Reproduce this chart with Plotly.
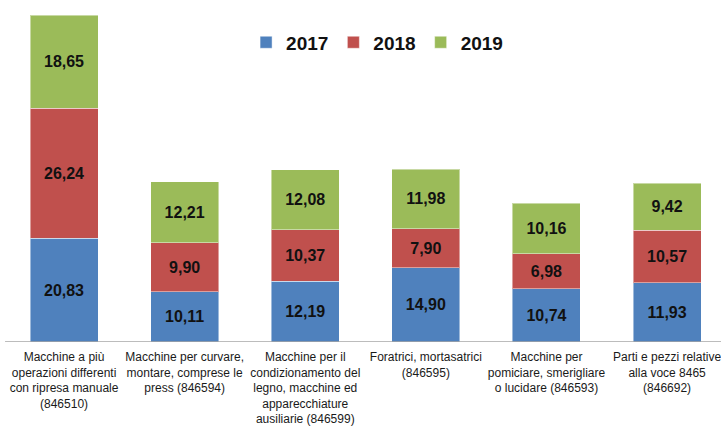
import plotly.graph_objects as go

categories = [
    "Macchine a più<br>operazioni differenti<br>con ripresa manuale<br>(846510)",
    "Macchine per curvare,<br>montare, comprese le<br>press (846594)",
    "Macchine per il<br>condizionamento del<br>legno, macchine ed<br>apparecchiature<br>ausiliarie (846599)",
    "Foratrici, mortasatrici<br>(846595)",
    "Macchine per<br>pomiciare, smerigliare<br>o lucidare (846593)",
    "Parti e pezzi relative<br>alla voce 8465<br>(846692)",
]
v2017 = [20.83, 10.11, 12.19, 14.90, 10.74, 11.93]
v2018 = [26.24, 9.90, 10.37, 7.90, 6.98, 10.57]
v2019 = [18.65, 12.21, 12.08, 11.98, 10.16, 9.42]
series_names = ["2017", "2018", "2019"]
colors = ["#4F81BD", "#C0504D", "#9BBB59"]

def fmt(v):
    return f"{v:.2f}".replace(".", ",")

fig = go.Figure()
for name, vals, col in zip(series_names, [v2017, v2018, v2019], colors):
    fig.add_trace(go.Bar(
        x=categories, y=vals, name=name,
        marker=dict(color=col, line=dict(color="rgba(255,255,255,0.45)", width=1)),
        text=[fmt(v) for v in vals],
        textposition="inside", insidetextanchor="middle",
        textfont=dict(family="Liberation Sans, Arial", size=16, color="#111111", weight="bold"),
        width=0.564,
        hoverinfo="skip",
    ))

fig.update_layout(
    barmode="stack",
    width=721, height=432,
    margin=dict(l=0, r=0, t=0, b=90),
    plot_bgcolor="white", paper_bgcolor="white",
    font=dict(family="Liberation Sans, Arial", color="#1a1a1a"),
    showlegend=True,
    legend=dict(
        orientation="h", x=0.523, xanchor="center", y=0.876, yanchor="middle",
        font=dict(size=19, weight="bold", color="#111111"),
        itemwidth=30, traceorder="normal",
        bgcolor="rgba(0,0,0,0)",
    ),
)
fig.update_xaxes(
    type="category", range=[-0.531, 5.447],
    showgrid=False, showline=False, ticks="",
    tickfont=dict(size=12, color="#1a1a1a"),
    tickangle=0, ticklabelstandoff=6,
)
fig.update_yaxes(
    range=[0, 68.8], showgrid=False, showticklabels=False, zeroline=False, showline=False,
)
fig.add_shape(type="line", xref="paper", yref="y", x0=0.007, x1=1, y0=0, y1=0,
              line=dict(color="#A6A6A6", width=1.5))

fig.write_html("out.html", config={"displayModeBar": False},
               post_script="document.body.style.margin='0';")
